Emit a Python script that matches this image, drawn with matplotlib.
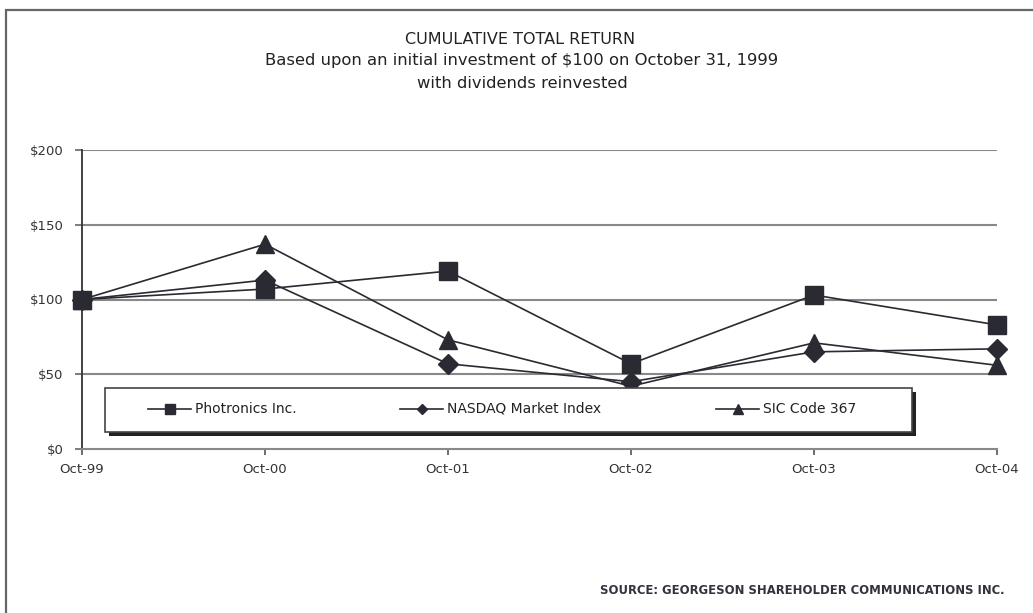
import numpy as np
import matplotlib
matplotlib.use("Agg")
import matplotlib.pyplot as plt
from matplotlib.patches import Rectangle
from matplotlib.lines import Line2D

plt.rcParams['font.family'] = ['DejaVu Sans']

# values
periods = ["Oct-99", "Oct-00", "Oct-01", "Oct-02", "Oct-03", "Oct-04"]
photronics = [100, 107, 119, 57, 103, 83]
nasdaq = [100, 113, 57, 45, 65, 67]
sic_367 = [100, 137, 73, 42, 71, 56]
yticks = [0, 50, 100, 150, 200]
ylabels = ["$0", "$50", "$100", "$150", "$200"]

ink = "#2a2a33"

fig = plt.figure(figsize=(10.33, 6.13), dpi=100)

# outer frame of the graphic
frame = Rectangle((6 / 1033, -0.05), 1.2, 1 - 10 / 613 + 0.05, transform=fig.transFigure,
                  fill=False, edgecolor="#666666", lw=1.6)
fig.patches.append(frame)

fig.text(520 / 1033, 1 - 40 / 613, "CUMULATIVE TOTAL RETURN", ha="center", va="center",
         fontsize=11.5, color="#222222")
fig.text(522 / 1033, 1 - 61 / 613, "Based upon an initial investment of $100 on October 31, 1999",
         ha="center", va="center", fontsize=11.8, color="#222222")
fig.text(522 / 1033, 1 - 84 / 613, "with dividends reinvested", ha="center", va="center",
         fontsize=11.8, color="#222222")
fig.text(1005 / 1033, 1 - 591 / 613, "SOURCE: GEORGESON SHAREHOLDER COMMUNICATIONS INC.",
         ha="right", va="center", fontsize=8.4, fontweight="bold", color="#333340")

ax = fig.add_axes([82 / 1033, 1 - 449 / 613, (997 - 82) / 1033, (449 - 150) / 613])
x = np.arange(len(periods))

for v in yticks[1:]:
    ax.axhline(v, color="#888888", lw=1.5, zorder=1)

ax.plot(x, photronics, color=ink, lw=1.2, marker="s", ms=12.5, zorder=3, clip_on=False)
ax.plot(x, nasdaq, color=ink, lw=1.2, marker="D", ms=10, zorder=3, clip_on=False)
ax.plot(x, sic_367, color=ink, lw=1.2, marker="^", ms=12.5, zorder=3, clip_on=False)

ax.set_xlim(0, len(periods) - 1)
ax.set_ylim(0, 200)
ax.set_xticks(x)
ax.set_xticklabels(periods, fontsize=9.5, color="#333333")
ax.set_yticks(yticks)
ax.set_yticklabels(ylabels, fontsize=9.5, color="#333333")
ax.spines["top"].set_visible(False)
ax.spines["right"].set_visible(False)
ax.spines["left"].set_color("#333333")
ax.spines["left"].set_linewidth(1.3)
ax.spines["bottom"].set_color("#888888")
ax.spines["bottom"].set_linewidth(1.5)
ax.tick_params(axis="x", direction="out", length=4, width=1.2, color="#555555", pad=6)
ax.tick_params(axis="y", direction="out", length=5, width=1.2, color="#666666", pad=8.5)

# legend box drawn by hand with a drop shadow
trans = ax.transAxes
x0, x1 = (105 - 82) / 915, (912 - 82) / 915
y0, y1 = (449 - 432) / 299, (449 - 388) / 299
shadow = Rectangle((x0 + 4 / 915, y0 - 4 / 299), x1 - x0, y1 - y0, transform=trans,
                   facecolor="#222222", edgecolor="none", zorder=4, clip_on=False)
box = Rectangle((x0, y0), x1 - x0, y1 - y0, transform=trans,
                facecolor="white", edgecolor="#444444", lw=1.2, zorder=5, clip_on=False)
ax.add_patch(shadow)
ax.add_patch(box)

ymid = (y0 + y1) / 2 + 1 / 299
entries = [("Photronics Inc.", "s", 148, 7.5), ("NASDAQ Market Index", "D", 400, 5.5),
           ("SIC Code 367", "^", 716, 7.5)]
for name, mk, px, ms in entries:
    lx0 = (px - 82) / 915
    lx1 = (px + 43 - 82) / 915
    ax.add_line(Line2D([lx0, lx1], [ymid, ymid], transform=trans, color=ink, lw=1.2,
                       zorder=6, clip_on=False))
    ax.add_line(Line2D([(lx0 + lx1) / 2], [ymid], transform=trans, color=ink, marker=mk,
                       ms=ms, zorder=6, clip_on=False))
    ax.text(lx1 + 4 / 915, ymid, name, transform=trans, fontsize=10,
            color="#222222", va="center", ha="left", zorder=6)

fig.savefig("out.png", dpi=100)
